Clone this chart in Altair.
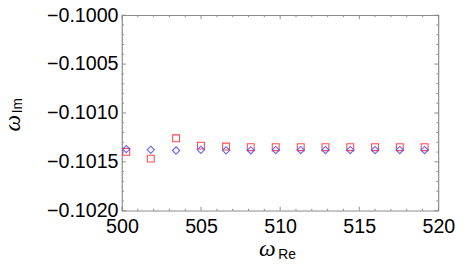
import altair as alt
import pandas as pd

# data
x_vals = [500.27, 501.82, 503.42, 504.99, 506.58, 508.14, 509.72, 511.30, 512.86, 514.43, 516.00, 517.56, 519.13]
blue_vals = [-0.101369, -0.101377, -0.101384, -0.101377, -0.101382, -0.101382, -0.101380,
             -0.101380, -0.101380, -0.101380, -0.101380, -0.101380, -0.101380]
red_vals = [-0.101397, -0.101467, -0.101259, -0.101334, -0.101344, -0.101350, -0.101350,
            -0.101350, -0.101350, -0.101350, -0.101350, -0.101350, -0.101350]

x_major = [500, 505, 510, 515, 520]
x_minor = [501, 502, 503, 504, 506, 507, 508, 509, 511, 512, 513, 514, 516, 517, 518, 519]
y_major = [-0.1020, -0.1015, -0.1010, -0.1005, -0.1000]
y_minor = [-0.1019, -0.1018, -0.1017, -0.1016, -0.1014, -0.1013, -0.1012, -0.1011,
           -0.1009, -0.1008, -0.1007, -0.1006, -0.1004, -0.1003, -0.1002, -0.1001]

W, H = 322, 199
FONT = "Liberation Sans"
FRAME = "#8c8c8c"

pts = pd.DataFrame({"x": x_vals, "blue": blue_vals, "red": red_vals})

xs = alt.Scale(domain=[500, 520], nice=False, zero=False)
ys = alt.Scale(domain=[-0.1020, -0.1000], nice=False, zero=False)

base = alt.Chart(pts)

axis_x = alt.Axis(values=x_major, format="d", ticks=False, domain=False, grid=False, labelFlush=False,
                  labelFont=FONT, labelFontSize=20, labelColor="black", labelPadding=6, title=None)
axis_y = alt.Axis(values=y_major, format=".4f", ticks=False, domain=False, grid=False, labelFlush=False,
                  labelFont=FONT, labelFontSize=20, labelColor="black", labelPadding=4, title=None)

red = base.mark_point(shape="square", size=49, filled=False, color="#ff2020",
                      strokeWidth=1.1, opacity=0.8).encode(
    x=alt.X("x:Q", scale=xs, axis=axis_x),
    y=alt.Y("red:Q", scale=ys, axis=axis_y),
)
blue = base.mark_point(shape="diamond", size=55, filled=False, color="#4a4aff",
                       strokeWidth=1.1, opacity=0.85).encode(
    x=alt.X("x:Q", scale=xs),
    y=alt.Y("blue:Q", scale=ys),
)

def xticks(vals, length):
    d = alt.Chart(pd.DataFrame({"v": vals}))
    bottom = d.mark_rule(color=FRAME, strokeWidth=1).encode(
        x=alt.X("v:Q", scale=xs), y=alt.value(H), y2=alt.value(H - length))
    top = d.mark_rule(color=FRAME, strokeWidth=1).encode(
        x=alt.X("v:Q", scale=xs), y=alt.value(0), y2=alt.value(length))
    return [bottom, top]

def yticks(vals, length):
    d = alt.Chart(pd.DataFrame({"v": vals}))
    left = d.mark_rule(color=FRAME, strokeWidth=1).encode(
        y=alt.Y("v:Q", scale=ys), x=alt.value(0), x2=alt.value(length))
    right = d.mark_rule(color=FRAME, strokeWidth=1).encode(
        y=alt.Y("v:Q", scale=ys), x=alt.value(W), x2=alt.value(W - length))
    return [left, right]

ticks = xticks(x_major, 4) + xticks(x_minor, 2) + yticks(y_major, 4) + yticks(y_minor, 2)

one = alt.Chart(pd.DataFrame({"a": [0]}))
ylab_w = one.mark_text(text="ω", font="Liberation Serif", fontStyle="italic", fontSize=24,
                       angle=270, baseline="alphabetic", color="black").encode(
    x=alt.value(-103.5), y=alt.value(110))
ylab_s = one.mark_text(text="Im", font=FONT, fontSize=14, angle=270, baseline="middle",
                       color="black").encode(x=alt.value(-106), y=alt.value(92))
xlab_w = one.mark_text(text="ω", font="Liberation Serif", fontStyle="italic", fontSize=24,
                       baseline="alphabetic", color="black").encode(x=alt.value(148), y=alt.value(245))
xlab_s = one.mark_text(text="Re", font=FONT, fontSize=14, baseline="middle",
                       color="black").encode(x=alt.value(168), y=alt.value(244))

chart = alt.layer(red, blue, *ticks, ylab_w, ylab_s, xlab_w, xlab_s).properties(
    width=W, height=H,
    autosize=alt.AutoSizeParams(type="none"),
    padding={"left": 116, "top": 5, "right": 21, "bottom": 58},
).configure_view(stroke=FRAME, strokeWidth=1.2)

chart.save("out.html", embed_options={"renderer": "svg", "actions": False})
